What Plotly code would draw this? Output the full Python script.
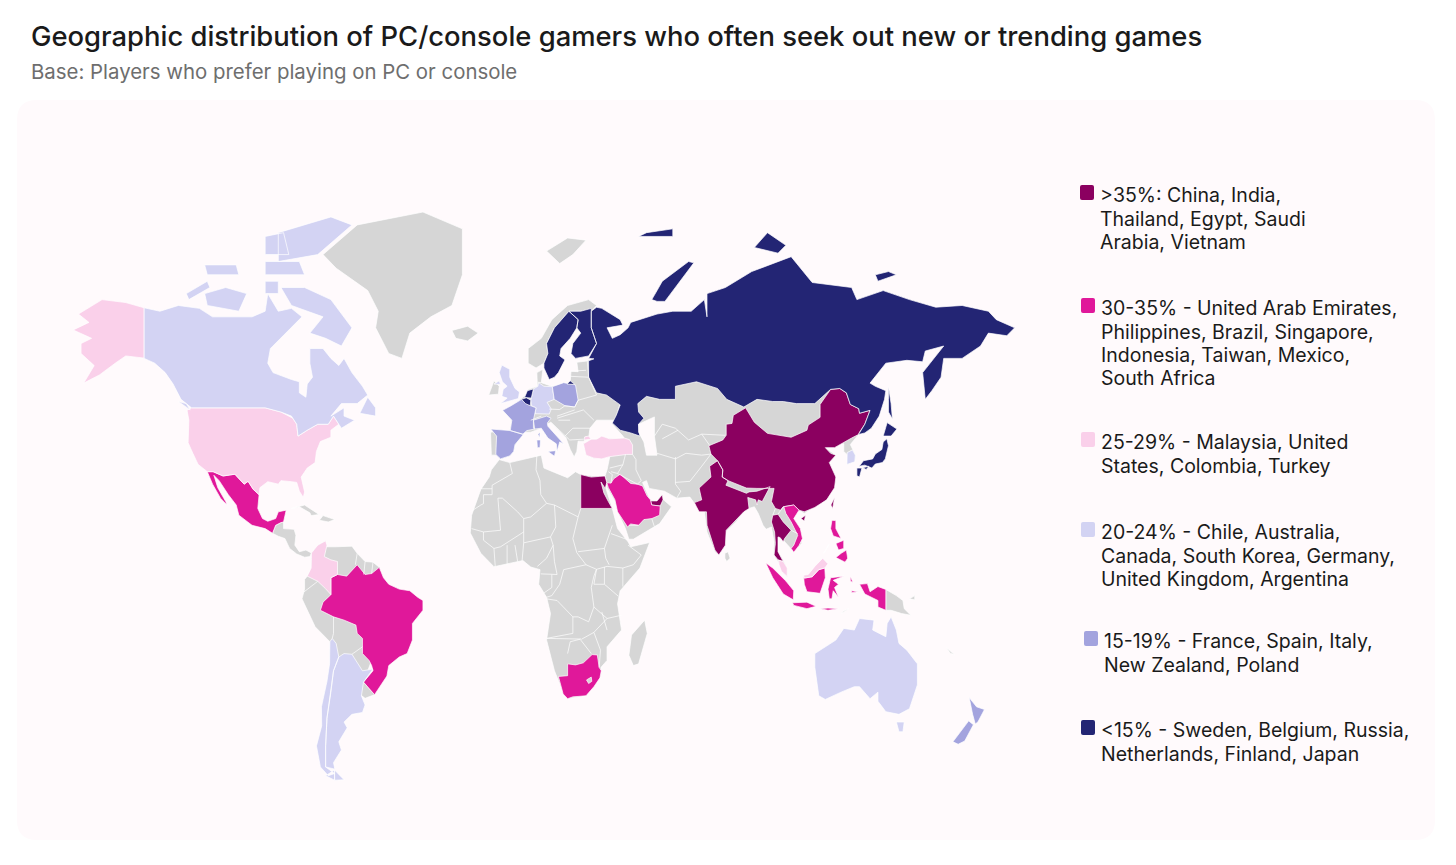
import math

import plotly.graph_objects as go

# Outlines are hand-estimated simplified lon/lat rings: plotly's topojson needs the CDN and
# no boundary file is available offline, so these are approximate, not survey data.

title = 'Geographic distribution of PC/console gamers who often seek out new or trending games'
subtitle = 'Base: Players who prefer playing on PC or console'

group_names = ['>35%', '30-35%', '25-29%', '20-24%', '15-19%', '<15%']
group_colors = ['#8b0060', '#e0189a', '#fad0ea', '#d3d3f3', '#a3a3de', '#232574']
gray = '#d6d6d6'
panel = '#fffafc'

legend_lines = [
    ['>35%: China, India,', 'Thailand, Egypt, Saudi', 'Arabia, Vietnam'],
    ['30-35% - United Arab Emirates,', 'Philippines, Brazil, Singapore,', 'Indonesia, Taiwan, Mexico,', 'South Africa'],
    ['25-29% - Malaysia, United', 'States, Colombia, Turkey'],
    ['20-24% - Chile, Australia,', 'Canada, South Korea, Germany,', 'United Kingdom, Argentina'],
    ['15-19% - France, Spain, Italy,', 'New Zealand, Poland'],
    ['<15% - Sweden, Belgium, Russia,', 'Netherlands, Finland, Japan'],
]
legend_mid = [195, 308, 442, 532, 641, 730]
legend_left = [1099, 1100, 1100, 1100, 1103, 1100]

gray_land = [
    [(-73,78),(-60,82),(-35,83.6),(-20,81.5),(-20,75),(-24,70),(-32,68),(-40,65),(-43,60),(-48,61),(-53,66),(-52,69),(-56,72.5),(-68,76)],
    [(-24,65.5),(-18,66.3),(-14,65),(-18,63.5),(-22.5,64)],
    [(-92.2,14.6),(-91,17),(-89,17.8),(-88,18),(-88,16),(-84,15.8),(-83.3,14),(-83.7,11),(-82,9),(-79.5,9.5),(-77.4,8.6),(-78,7.5),(-80,7.3),(-83,8.3),(-85.7,10),(-87.5,13),(-90,13.7)],
    [(-85,22),(-80,23),(-74.5,20.2),(-77.5,19.9),(-78,20.7),(-82,22.5)],
    [(-74.4,18.5),(-73,19.9),(-68.5,18.7),(-71,18)],
    [(-77.4,8.6),(-75,11),(-72,12.3),(-71.5,10.5),(-68,10.5),(-62,10.7),(-60,8.5),(-57,6),(-54,5.8),(-51.6,4.2),(-55,-25),(-57.6,-30.2),(-53.4,-33.7),(-57,-34.7),(-60,-33),(-70,-33),(-70.4,-18.5),(-76,-14),(-81,-5.5),(-80,-2.5),(-80,0.5),(-79,1.5),(-77.5,4),(-77.4,7)],
    [(-6,35.8),(-2,35),(10,37),(11,33.5),(15,32.3),(20,30.8),(23,32.5),(25,31.7),(32.5,31),(34.2,31.3),(34.5,28),(37,22),(39,16),(43,12),(44,10.5),(51.2,11.8),(47.5,4),(40,-3),(39,-7),(40.5,-15),(35,-20),(35,-24),(32.7,-26),(32.8,-28),(27,-34),(20,-34.8),(18.3,-33),(15,-27),(12,-18),(13.5,-10),(12,-5),(9,-1),(9.5,3.5),(6,4.3),(3,6.3),(-4,5),(-8,4.4),(-13,8.5),(-17,14.7),(-16.5,20),(-13,27.5),(-9.8,31),(-9,33)],
    [(49.3,-12),(50.3,-16),(47,-25),(45,-25.5),(43.3,-22.5),(44.3,-16.5)],
    [(-9,37),(-9.3,43),(-2,43.5),(-1.3,46),(-4.7,48.4),(-1.5,48.7),(2,51),(4,52),(5,53.3),(8.5,54),(8.3,57),(10.6,57.7),(10,54.8),(14,54),(19,54.5),(21,55),(21.3,57.3),(24,57.2),(23.5,59.2),(28,59.5),(40,58),(42,48),(38,46),(31,46),(28.5,44),(28,41.5),(26,40.7),(24,40.7),(23.5,38),(22.5,36.5),(21,38.5),(19.4,41.5),(13.6,45.5),(12.3,45),(13,43.5),(16,41.9),(18.5,40),(17,40.5),(16,38),(15.7,40),(12.5,41.5),(10,44),(6,43),(3,43),(0,39.5),(-0.5,38),(-2,36.8),(-5.5,36),(-7,37)],
    [(26,40),(27,37),(30,36.2),(36,36.5),(35,33),(34.2,31.3),(34.9,29.5),(35,28),(38,24),(39,21),(42,16),(43.3,12.8),(45,12.8),(52,16),(55,17.5),(59.5,22.5),(56.5,24.5),(56,26.3),(54,24.2),(51.5,24.5),(50.5,26),(48.5,29.5),(50,30),(51,27.8),(56.8,27),(61.5,25),(66.5,25.3),(68,23.7),(72,21),(73,15),(76,9),(77.5,8),(80,11),(80,15),(84,18),(87,21),(89,22),(91,22.5),(92.5,20.5),(94.3,17),(95.5,15.8),(97.5,16.5),(98.5,12),(98.3,8),(100,6),(102,2.5),(103.5,1.3),(103.5,4),(102,6.5),(100,9),(100,13.5),(102,12.5),(105,10),(106,9),(109,11.5),(109,14),(106,18),(106,20),(108,21.5),(110,20.5),(115,23),(120,27),(122,30.5),(120,34),(119,37),(122,37),(118,39),(122,41),(125,40),(125,38),(126.5,37),(126.5,34.5),(129.3,35.5),(129.5,37),(127.5,39.8),(130.5,42.3),(135,43.5),(130,55),(60,55),(40,50),(38,46),(37,45),(41,42),(41.5,41.5),(36,41.3),(31,41.2),(29,41.2)],
    [(5,59),(5,62),(10,64),(14,67.5),(20,70),(28,71),(31,70),(29,69),(25,69),(20.5,69),(15,66),(12,63),(12.5,61),(11,59),(8,58)],
    [(12,78.5),(20,80.3),(27,80),(22,78),(17,76.7)],
    [(-10,52),(-8,55.2),(-6,54),(-6.3,52.2)],
    [(141,-2.6),(145,-4.5),(147.5,-6),(148,-8.5),(150.5,-10.5),(147,-10),(143,-9),(141,-9)],
    [(150,-5.5),(152,-4.5),(152,-5.8)],
    [(79.8,8.5),(81,9),(81.8,7),(80.5,6),(79.8,7)],
    [(124,-10),(127,-8.5),(125,-9.2)],
    [(164,-20.2),(167,-22.3),(165.5,-21.9)],
]
lesotho = [[(27.2,-29.6),(29,-28.8),(29.2,-30),(28,-30.6)]]
caspian = [[(47,45),(53,46.8),(53,42),(54,37),(50,37),(49,40.5),(47,43)]]

china = [
    [(73.7,39.5),(79,41),(80.3,42.2),(80.3,45),(82.5,45.2),(83,47.2),(87.7,49),(91,45.5),(96,42.7),(105,41.7),(111,43.5),(111.5,44.8),(116,46.7),(116,49.8),(120,53.3),(123.5,53.5),(126,52.5),(127.5,49.8),(130.7,48.8),(131,47.7),(135,48.4),(133,45),(131,43),(130.6,42.4),(128,41.5),(124.3,40),(121.5,39),(118,39),(120,37.5),(122,37),(119.5,35),(122,31),(121.5,28),(118.5,24.5),(114,22.3),(110,21),(108,21.5),(106,23),(102,22.5),(101,21.5),(99,22),(97.5,24),(98.5,27.8),(92,27.8),(88,27.9),(81,30),(78.8,31),(79,33),(77,35.5),(74.5,37.3)],
    [(108.7,19),(110.5,20),(110,18.3)],
]
taiwan = [[(120.1,23),(121.5,25.2),(120.8,22)]]
india = [[(68.2,23.7),(71,24.5),(70,27.9),(74.5,31),(74,34),(77,35.5),(79,33),(78.8,31),(81,30),(80.2,28.7),(88,26.4),(89,26.8),(92,27),(97,28.3),(94,24),(92.5,24.5),(92,23),(91.5,24.5),(88.5,25.2),(89,22),(87,21),(84,18.5),(80.3,15.5),(80,11),(77.5,8),(76,9.5),(73,17),(72.8,21),(70,21),(69,22.5)]]
thailand = [[(97.5,18),(98,20),(100,20.3),(102,18),(105,15.5),(102.5,13),(102,12),(100.8,13.3),(100,13.5),(100,9),(102,6),(100,6.5),(98.5,8),(99,11.5),(98.7,15)]]
egypt = [[(25,31.7),(29,31),(32.3,31.2),(34.2,31.3),(34.9,29.5),(34.3,27.8),(32.7,29.6),(33.8,26.5),(35.5,24),(37,22),(25,22)]]
uae = [[(51.5,24.2),(54,24.2),(56,26),(56.3,24.5),(55.2,22.7),(52,23)]]

saudi = [[(36.5,29.3),(34.9,29.4),(35.5,28),(38,24.5),(39,21),(41,18.5),(42.8,16.5),(44,17.4),(47,17),(49,18.7),(52,19),(55,20),(55.2,22.7),(52,23),(51.5,24.5),(50.2,25.7),(48.5,28.5),(46.5,29),(44,29.2),(40,31.8),(37.5,30.5)]]
vietnam = [[(102.2,22.5),(106,23),(108,21.5),(106,19),(108.5,16),(109.3,13),(108,10.9),(106,8.8),(105,10),(106,11),(107.5,14),(105,18),(103,20.5)]]
philippines = [
    [(120.5,18.5),(122,18.4),(122,16),(124,13),(121,13.8),(120,16)],
    [(122,7.2),(124,8.5),(126,9.5),(126.5,7),(125.5,5.8),(124,6.5)],
    [(122,11.5),(125,12.5),(125,10),(123,9.5)],
    [(117.3,8.5),(119.5,11.3),(119,10.5)],
]
brazil = [[(-51.6,4.2),(-50,1),(-48,-1),(-44,-2.5),(-40,-3),(-37,-5),(-35,-6),(-35,-9),(-39,-13),(-39,-18),(-41,-22),(-44,-23),(-48,-25.5),(-48.7,-28.5),(-53.4,-33.7),(-57.6,-30.2),(-54,-27),(-54.5,-25.5),(-55.5,-24),(-58,-22),(-58,-17.5),(-60,-16),(-60.5,-13.5),(-65,-12),(-69,-11),(-74,-9),(-73,-6.5),(-70,-4.2),(-70,1),(-67.5,2),(-64,1.5),(-60,5),(-57,2),(-54.5,2.3)]]
indonesia = [
    [(95.3,5.6),(98,4),(103,0),(106,-3),(105.8,-5.8),(102,-4),(98,1)],
    [(105.5,-6.7),(111,-6.5),(114.5,-7.8),(111,-8.5),(106,-7.5)],
    [(109.7,1.8),(110,0.9),(113,1.3),(115.5,3.5),(117.8,4),(118,1),(116,-3.8),(111,-3.3),(110,-1)],
    [(119.5,-5.5),(119,-2.5),(120,1),(125,1.5),(121,0.2),(123,-1),(121.5,-2),(123,-5),(121,-3),(120.5,-5.5)],
    [(131,-1),(134,-0.8),(135,-3.3),(138,-1.7),(141,-2.6),(141,-9),(138,-8),(138,-6),(133,-4),(132,-2.5)],
    [(116,-8.5),(119,-8.3),(123,-8.5),(119,-9)],
    [(127.5,1.5),(128.5,-0.5),(127.5,0)],
    [(128,-3),(130.5,-3.3),(128,-3.6)],
]
mexico = [[(-117,32.5),(-114.8,32.5),(-111,31.3),(-106.5,31.8),(-103,29),(-101.5,29.8),(-99.5,27.5),(-97.3,26),(-97.8,22),(-96,19),(-94,18.2),(-91,19),(-90,21),(-87,21.5),(-88,18),(-89,17.8),(-91,17),(-92.2,14.6),(-95,16),(-100,17),(-105,20),(-106,23),(-109,26),(-112.5,30),(-114.5,31.5),(-113,28),(-110,24),(-109.5,23),(-112,25),(-115,29)]]
south_africa = [[(16.5,-28.6),(20,-28.4),(20,-25),(23,-25.3),(26,-24.7),(29.3,-22.3),(31.3,-22.4),(32,-26),(32.8,-27),(32.3,-29),(30,-31.5),(27,-34),(22,-34.3),(20,-34.8),(18.3,-33.5),(17,-29.5)]]

malaysia = [
    [(100.2,6.4),(102,6),(103.5,4),(103.5,1.4),(101.3,3),(100.4,5)],
    [(109.7,1.8),(111.5,2),(114,4.5),(117,7),(119,5.3),(117.8,4),(115.5,3.5),(113,1.3),(110,0.9)],
]
usa = [
    [(-123,49),(-95,49),(-89,48),(-84.5,46.5),(-83,45),(-82.5,42),(-79,43.5),(-75,45),(-71,45),(-69,47),(-67,45),(-70,43.5),(-70,41.7),(-74,40.6),(-75.5,38),(-76,35),(-79,33.5),(-81.3,31),(-80,26.8),(-80.5,25.2),(-82,27),(-83,29.5),(-85,29.7),(-89,30),(-90,29),(-94,29.7),(-97,28),(-97.3,26),(-99.5,27.5),(-101.5,29.8),(-103,29),(-106.5,31.8),(-111,31.3),(-114.8,32.5),(-117,32.5),(-120.5,34.5),(-122.5,37.5),(-124.3,40.3),(-124,46),(-124.7,48.4)],
    [(-141,69.6),(-141,60),(-137,59),(-133,57),(-130,55),(-134,58),(-140,60),(-148,60.5),(-152,59),(-158,56.5),(-164,54.7),(-160,58.5),(-165,61),(-165,63),(-161,64),(-168,65.6),(-162,67),(-166,68.5),(-157,71),(-148,70.5)],
]
colombia = [[(-77.4,8.6),(-75,11),(-72,12.3),(-71.5,11),(-72.5,7.5),(-70,6.5),(-67.5,6),(-67.5,2),(-70,1),(-70,-4.2),(-72,-2.4),(-75,-0.1),(-79,1.5),(-77.5,4),(-77.4,7)]]
turkey = [
    [(26,40),(27,37),(30,36.2),(33,36),(36,36.6),(38,36.8),(42.5,37.2),(44.7,37.2),(44.7,39.7),(43.5,41.1),(41.5,41.5),(36,41.3),(33,42),(31,41.2),(29,41.2)],
    [(26.2,41),(29,41.2),(28,42),(26.5,41.8)],
]

chile = [
    [(-69.5,-17.5),(-70.4,-18.5),(-70.5,-25),(-71.5,-30),(-73.6,-37),(-73.5,-42),(-75.5,-47),(-74,-52),(-71,-54),(-68.6,-53.5),(-72,-52),(-72,-47),(-71.5,-40),(-70,-33),(-69,-27),(-67,-23),(-68,-19)],
    [(-68.6,-52.7),(-68.6,-55),(-72,-54)],
]
australia = [
    [(114,-22),(114,-26),(115.5,-34),(118,-35),(124,-33),(129,-31.5),(131,-31.5),(135,-34.8),(138,-33),(138,-35.5),(141,-38.3),(146,-39),(150,-37.5),(153,-31),(153,-25),(149,-21),(146,-19),(145,-15),(143,-11),(141.5,-13),(141,-17),(136,-15),(136.5,-12),(131,-11.5),(129,-15),(125,-14.5),(122,-18),(117,-20.5)],
    [(145,-41),(148,-41),(147.5,-43.5),(146,-43.5)],
]
canada = [
    [(-141,69.6),(-135,69),(-128,70),(-120,69.5),(-115,68),(-108,68),(-100,68),(-95,69),(-94,72),(-90,69),(-85,69.5),(-81,68),(-87,65),(-93,62),(-94,59),(-92,57),(-85,55.5),(-82,55),(-82,52.5),(-79.5,51.5),(-79,54.5),(-77,56),(-78,59),(-78,62),(-73,62),(-70,60),(-67,58.5),(-65,60),(-62,57),(-58,54),(-56,52),(-60,50),(-66,50),(-70,47),(-65,49),(-65,47),(-61,46),(-66,44),(-67,45),(-69,47),(-71,45),(-75,45),(-79,43.5),(-82.5,42),(-83,45),(-85,47),(-89,48),(-95,49),(-123,49),(-127,51),(-130,54.5),(-133,57),(-137,59),(-141,60)],
    [(-80,73),(-70,71),(-62,66),(-66,62.5),(-72,64),(-78,65),(-73,68),(-85,70),(-89,73)],
    [(-117,70),(-105,69),(-102,72),(-110,73),(-118,72)],
    [(-125,72),(-117,74),(-116,73),(-124,71)],
    [(-90,77),(-75,78),(-62,82),(-70,83),(-90,81)],
    [(-95,75),(-80,75),(-82,77),(-95,77)],
    [(-117,75),(-105,75),(-106,76.5),(-118,76.5)],
    [(-95,78),(-86,78),(-88,81),(-95,80.5)],
    [(-59,47.7),(-53,47),(-53,49),(-56,51.5)],
    [(-128,50.5),(-123.5,48.5),(-125,50)],
    [(-95,72),(-90,72),(-90,74),(-95,74)],
]
south_korea = [[(126.2,34.5),(126.3,37.7),(128.3,38.4),(129.4,37),(129.2,35.2),(127,34.6)]]
germany = [[(6,50.8),(6.2,51.3),(7,53.4),(8.7,54),(9,54.8),(11,54),(14.2,53.9),(14.9,51),(12.2,50.3),(13.8,48.7),(13,47.5),(7.6,47.6),(8,49),(6.3,49.5)]]
uk = [
    [(-5.5,50),(1.3,51.2),(1.7,52.7),(0,53.5),(-2,56),(-2,57.7),(-5,58.6),(-6,57),(-4.8,55),(-3,54),(-4.5,53.3),(-5,51.7),(-3,51.3)],
    [(-8,54.5),(-6,55.2),(-5.5,54.4)],
]
argentina = [
    [(-65,-22),(-62,-22.2),(-58,-27),(-54,-26.5),(-57.6,-30.2),(-58.4,-34),(-57,-36.5),(-58,-38.5),(-62,-39),(-65,-41),(-63.8,-42.5),(-67,-46),(-66,-48),(-69,-51),(-68.5,-52.5),(-72,-52),(-72,-47),(-71.5,-40),(-70,-33),(-69,-27),(-67,-23)],
    [(-68.6,-52.7),(-65,-54.9),(-68.6,-55)],
]

france = [
    [(-1.8,43.4),(3,42.5),(4.5,43.4),(7.5,43.8),(7,46),(8,49),(6,49.5),(2.5,51),(-1.5,49.5),(-4.7,48.4),(-1.2,46)],
    [(8.7,42.5),(9.5,43),(9.4,41.5)],
]
spain = [[(-9.2,43.8),(-1.8,43.4),(3.2,42.4),(0,39.8),(-0.5,38),(-2,36.8),(-5.5,36),(-7.3,37.2),(-7,42)]]
italy = [
    [(7,44),(7,46),(12,47),(13.7,46.5),(12.3,45.3),(12.5,44.5),(16,41.9),(18.5,40),(17,40.5),(16,38),(15.7,40),(12.5,41.5),(10,44),(7.5,43.8)],
    [(12.5,38),(15.5,38.2),(15,36.7)],
    [(8.3,41),(9.7,41),(9.5,39),(8.5,39)],
]
new_zealand = [
    [(172.7,-34.5),(175.5,-37),(178.5,-37.7),(176,-41),(175,-41.5),(174,-39)],
    [(172.5,-40.7),(174.3,-41.7),(171,-45.8),(168.5,-46.6),(166.5,-46),(170,-43)],
]
poland = [[(14.2,53.9),(18.5,54.8),(23,54.3),(24,50.8),(22.7,49.2),(19,49.5),(14.9,51)]]

sweden = [[(11,59),(12.5,61),(12,63),(15,66),(20.5,69),(24,67.5),(23.5,66),(21,64),(17.5,62),(17,60.5),(19,59.7),(16.5,57),(15,56),(13,55.5),(11,58)]]
belgium = [[(2.5,51),(4.3,51.4),(6,50.8),(5.8,49.5),(4,50)]]
russia = [
    [(28,60),(30,59.9),(28,59.5),(28,56),(31,52.5),(34.8,52),(40,49.7),(38.5,47.2),(37,45.3),(40,43.5),(44,42.8),(47.5,42),(47,45),(49,46.5),(47,48),(46.7,50),(50,51.7),(55,51),(61,51),(61,54),(69,55),(74,54),(77,53.5),(80.5,51),(87,49.2),(92,51),(98,50.5),(102,50.5),(107,50),(114,50),(120,53.3),(123.5,53.5),(126,52.5),(127.5,49.8),(130.7,48.8),(131,47.7),(135,48.4),(133,45),(131,43),(130.6,42.4),(133,42.8),(135.5,44),(138.5,47),(140.5,51),(141,53),(137,54),(135,54.7),(141,59),(149,59.6),(155,59.3),(156,61.5),(163,62.5),(155,57),(156,51),(158.5,53),(162,56),(163,60),(170,60),(177,62.5),(180,65),(187,64.5),(190,66),(183,67.5),(180,69),(170,70),(160,69.7),(150,71),(140,72.5),(130,71),(128,73),(113,73.8),(105,77.7),(90,75.5),(80,73),(73,72),(73,68),(72,71),(67,69),(60,69),(54,68.5),(44,67),(43,66),(40,64.7),(37,64),(35,66),(41,66.5),(40,67.5),(33,69.5),(31,69.7),(29,69),(29,66),(31,63)],
    [(142,54),(143,50),(143.5,46.3),(142,48),(142,51)],
    [(52,71),(54,70.7),(57,70.7),(68,76.8),(66,77),(56,74),(54,72.5)],
    [(91,79),(100,78.2),(103,79.3),(96,81)],
    [(137,75),(142,75.5),(145,75),(138,74)],
    [(47,80.5),(60,80.5),(60,81.5),(50,81)],
    [(19.8,54.5),(22.8,54.4),(21,55.2)],
]
netherlands = [[(3.6,51.4),(4.7,53),(7,53.4),(6.2,51.3),(4.3,51.4)]]
finland = [[(20.5,69),(25,69),(29,69.5),(29,66),(31,63),(28,60.5),(23,60),(21.3,61),(22,63),(25,65),(23.5,66),(24,67.5)]]
japan = [
    [(130.9,34),(132.5,35.5),(136,36),(137,37.3),(139.5,38.5),(140,40.5),(141.4,41.3),(142,39.5),(140.8,36),(139.7,35),(137,34.6),(135.7,33.5),(133,34.3)],
    [(140,42),(141.5,45.4),(145.2,43.8),(143,42)],
    [(130,33.5),(131.9,33.5),(131,31),(130,31.4)],
    [(132.3,33.6),(134.6,34),(133.5,33.1)],
]

# map colouring as seen on the picture
group_rings = [
    china + taiwan + india + thailand + egypt + uae,
    saudi + vietnam + philippines + brazil + indonesia + mexico + south_africa,
    malaysia + usa + colombia + turkey,
    chile + australia + canada + south_korea + germany + uk + argentina,
    france + spain + italy + new_zealand + poland,
    sweden + belgium + russia + netherlands + finland + japan,
]

# white borders between the gray countries
border_lines = [
    [(-2,35),(-1,32),(-8.7,28.7),(-8.7,26),(-12,26),(-12,23.4),(-13,23),(-17,21)],
    [(-13,27.7),(-8.7,27.7)],
    [(8.3,36.9),(8,33),(9.5,30),(9.8,26),(12,23.5),(6,19.5),(3.3,19),(1,21),(-4.8,25),(-6.5,25),(-5.5,15.5),(-12,15),(-16.5,16)],
    [(12,23.5),(15,23),(24,19.5),(25,22)],
    [(24,19.5),(22,13),(23.5,8.7),(27,5),(18.5,3.5),(17,-1),(14,-4.5),(12,-5)],
    [(15,23),(15.5,16.5),(13.5,13.5),(3.3,11.7),(2.7,6.3)],
    [(3.3,19),(3.3,11.7)],
    [(13.5,13.5),(14.5,11),(12,7),(8.5,4.5)],
    [(14.5,11),(15,6),(16,2),(9.8,2.2)],
    [(3.3,15),(-5.5,10.5),(-8,10),(-12,12.5),(-12,15)],
    [(-3,5),(-3,11)],[(1,6),(0,11)],[(-7.5,4.4),(-8,10)],
    [(24,9),(34,10),(34.5,7),(35.8,5)],[(27,5),(31,3.6),(35,4.5),(41,4),(41,-1.7)],
    [(37,17),(36,14.5),(34,10)],[(36.5,14.5),(43,12.6)],[(43,11),(48,8),(45,5),(41,4)],
    [(34,-1),(39.3,-4.7)],[(31,3.6),(30,-1),(34,-1),(34,4.3)],
    [(12,-5.5),(16,-6),(22,-11),(24,-11),(28,-12.5),(30,-8),(29,-2),(30,1.5),(31,3.6)],
    [(22,-11),(22,-16),(12,-17.5)],[(12,-17.5),(25,-17.7),(21,-18.5),(20,-22)],
    [(25,-18),(29,-22)],[(25.2,-17.8),(30,-15.7),(32.5,-21),(32,-26)],[(30,-15.7),(35,-11.5),(40.5,-10.5)],
    [(30,-8),(35,-11.5)],[(33,-9.5),(35,-15)],[(14,2),(14,-2),(11,-3.7)],
    [(42,37.2),(41,34.4),(39,32),(46.5,29),(48,30),(46,33),(46,35.8),(44.7,37.2)],
    [(36.5,32.5),(39,32)],[(36,33.5),(41,34.4)],[(35.5,32.5),(37,31.7),(36.5,29.3)],
    [(61,36.5),(61,29),(63,27),(61.5,25)],
    [(61,36),(65,37.5),(71,37),(74.5,37.3),(71,34),(66.5,29.8),(61,29.5)],
    [(53,42),(56,45),(61,44),(66,41),(71,42.5),(80,42.2)],[(71,42.5),(74,39.6)],[(54,37.5),(61,36)],
    [(56,41.3),(62,43.5)],[(43.3,17),(47,17)],[(52,19),(53,16.6)],
    [(105,15.5),(107.5,14.5)],[(98,20),(99,22)],[(100,20.3),(102,22.5)],
    [(13.6,45.5),(19,42),(20.8,41),(26,41.2)],[(16,46.5),(23,48),(26,48.5),(30,46)],
    [(19,49.5),(22.7,49.2),(24,50.8),(31,52),(28,56),(27.5,59.4)],[(21,56.2),(28,56)],[(21,57.3),(27,57.5)],
    [(22,44),(28.5,44)],[(22,44),(19,42)],[(16,47),(22.7,48.5)],[(21,46),(16.5,46)],
    [(13,48.7),(17,48.6),(19,49.5)],[(6,46),(10,47)],[(8.7,54.9),(9.9,54.8)],
    [(-60,8.5),(-60.7,5)],[(-57,6),(-57.5,2)],[(-54,5.8),(-54.5,2.3)],
    [(-80.3,-3.4),(-75,-0.1)],[(-69,-11),(-69,-16),(-69.5,-17.5)],[(-62,-22.2),(-58,-20)],
]

W = 1456
H = 865
PAGE_MARGIN = 8  # the browser's body margin pushes the figure this far right and down
# x pixel = X0 + XK * lon, y pixel = Y0 - YK * miller(lat), inside the figure
X0 = 515 - PAGE_MARGIN
XK = 2.63
Y0 = 581 - PAGE_MARGIN
YK = 186


def miller(lat):
    return 1.25 * math.log(math.tan(math.pi / 4 + 0.4 * math.radians(lat)))


def ring_trace(rings, color, name):
    xs, ys = [], []
    for ring in rings:
        xs += [p[0] for p in ring] + [ring[0][0], None]
        ys += [miller(p[1]) for p in ring] + [miller(ring[0][1]), None]
    return go.Scatter(x=xs, y=ys, mode='lines', fill='toself', fillcolor=color, name=name,
                      line=dict(color='white', width=0.7), hoverinfo='name', showlegend=False)


def px(x):
    return (x - PAGE_MARGIN) / W


def py(y):
    return 1 - (y - PAGE_MARGIN) / H


def rounded(x0, y0, x1, y1, r):
    pts = [(x0 + r, y0), (x1 - r, y0), (x1, y0), (x1, y0 + r), (x1, y1 - r), (x1, y1), (x1 - r, y1),
           (x0 + r, y1), (x0, y1), (x0, y1 - r), (x0, y0 + r), (x0, y0), (x0 + r, y0)]
    p = ['%f %f' % (px(a), py(b)) for a, b in pts]
    return 'M %s L %s Q %s %s L %s Q %s %s L %s Q %s %s L %s Q %s %s Z' % tuple(p)


fig = go.Figure()
fig.add_trace(ring_trace(gray_land, gray, 'No group'))
for rings, color, name in zip(group_rings, group_colors, group_names):
    fig.add_trace(ring_trace(rings, color, name))
fig.add_trace(ring_trace(lesotho, gray, 'No group'))
fig.add_trace(ring_trace(caspian, panel, 'Caspian Sea'))

bx, by = [], []
for line in border_lines:
    bx += [p[0] for p in line] + [None]
    by += [miller(p[1]) for p in line] + [None]
fig.add_trace(go.Scatter(x=bx, y=by, mode='lines', line=dict(color='white', width=0.7),
                         hoverinfo='skip', showlegend=False))

shapes = [dict(type='path', xref='paper', yref='paper', layer='below', line_width=0, fillcolor=panel,
               path=rounded(17, 100, 1435, 840, 20))]
annotations = [
    dict(text=title, x=px(30), y=py(36), yanchor='middle',
         font=dict(size=27.4, color='#1a1a1a', family='Inter', weight=500)),
    dict(text=subtitle, x=px(30), y=py(71), yanchor='middle',
         font=dict(size=20.4, color='#6e6e6e', family='Inter')),
]
for lines, color, mid, left in zip(legend_lines, group_colors, legend_mid, legend_left):
    for k, line in enumerate(lines):
        annotations.append(dict(text=line, x=px(left), y=py(mid + 23.5 * k), yanchor='middle',
                                font=dict(size=19.5, color='#1a1a1a', family='Inter')))
    shapes.append(dict(type='path', xref='paper', yref='paper', fillcolor=color, line_width=0,
                       path=rounded(left - 19, mid - 10, left - 5, mid + 5, 2)))
for a in annotations:
    a.update(xref='paper', yref='paper', xanchor='left', align='left', showarrow=False, borderpad=0)

fig.update_layout(width=W, height=H, margin=dict(l=0, r=0, t=0, b=0), paper_bgcolor='white',
                  plot_bgcolor='rgba(0,0,0,0)', showlegend=False, shapes=shapes, annotations=annotations,
                  xaxis=dict(visible=False, range=[-X0 / XK, (W - X0) / XK]),
                  yaxis=dict(visible=False, range=[(Y0 - H) / YK, Y0 / YK]))
fig.write_html("out.html")
